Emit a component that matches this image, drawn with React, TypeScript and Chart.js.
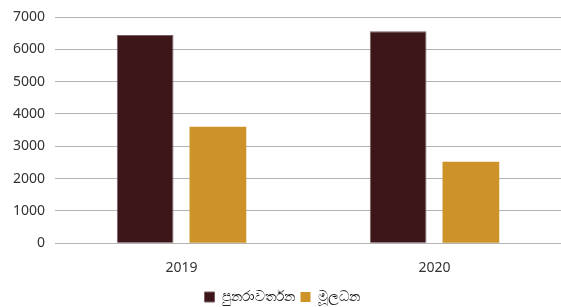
import React, { useEffect, useRef } from "react";
import { Chart, registerables } from "chart.js";

Chart.register(...registerables);

const categories = ["2019", "2020"];
const seriesNames = ["පුනරාවර්තන", "මූලධන"];
const recurrentValues = [6440, 6560];
const capitalValues = [3600, 2520];
const yTicks = [0, 1000, 2000, 3000, 4000, 5000, 6000, 7000];

export default function App() {
  const ref = useRef<HTMLCanvasElement | null>(null);
  useEffect(() => {
    document.body.style.margin = "0";
    const ctx = ref.current!.getContext("2d")!;
    const chart = new Chart(ctx, {
      type: "bar",
      data: {
        labels: categories,
        datasets: [
          {
            label: seriesNames[0],
            data: recurrentValues,
            backgroundColor: "#3D161A",
            borderColor: "#7a6064",
            borderWidth: 1,
            categoryPercentage: 0.575,
            barPercentage: 0.78,
          },
          {
            label: seriesNames[1],
            data: capitalValues,
            backgroundColor: "#CD9329",
            borderWidth: 0,
            categoryPercentage: 0.575,
            barPercentage: 0.78,
          },
        ],
      },
      options: {
        responsive: false,
        animation: false,
        layout: { padding: { top: 0, right: 0, left: 3, bottom: -7 } },
        plugins: {
          tooltip: { enabled: false },
          legend: {
            position: "bottom",
            labels: {
              boxWidth: 10,
              boxHeight: 10,
              color: "#222",
              font: { size: 14, family: "'Noto Sans', sans-serif" },
              padding: 6,
            },
          },
        },
        scales: {
          x: {
            grid: { display: false },
            border: { display: false },
            ticks: { color: "#333", font: { size: 14, family: "'Noto Sans', sans-serif" }, padding: 8 },
          },
          y: {
            min: 0,
            max: 7000,
            afterBuildTicks: (axis: any) => {
              axis.ticks = yTicks.map((v) => ({ value: v }));
            },
            grid: { color: "#b3b3b3", drawTicks: false, lineWidth: 1 },
            border: { display: false },
            ticks: {
              color: "#333",
              font: { size: 14, lineHeight: 1, family: "'Noto Sans', sans-serif" },
              padding: 10,
              callback: (v: any) => String(v),
            },
          },
        },
      },
    });
    return () => chart.destroy();
  }, []);
  return (
    <div style={{ position: "absolute", left: 0, top: 0, width: 561, height: 307 }}>
      <canvas ref={ref} width={561} height={307} />
    </div>
  );
}
